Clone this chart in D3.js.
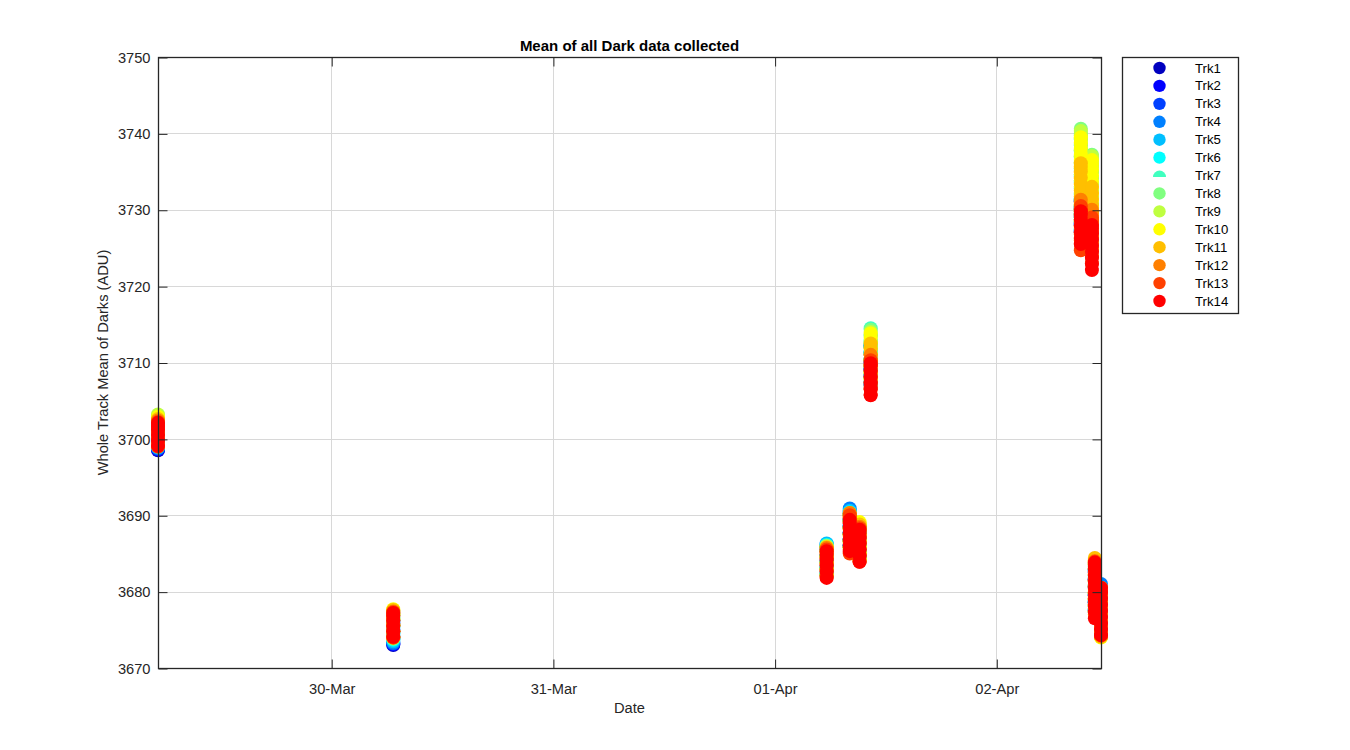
<!DOCTYPE html>
<html>
<head>
<meta charset="utf-8">
<script src="https://cdn.jsdelivr.net/npm/d3@7"></script>
<style>
  html, body { margin: 0; padding: 0; background: #fff; }
  svg { display: block; }
  text { font-family: Arial, "Liberation Sans", Helvetica, sans-serif; }
</style>
</head>
<body>
<svg id="chart" width="1350" height="750"></svg>
<script>
// ---------------- DATA ----------------
// Acquisition sessions (UTC); each track has one array of means per session
const sessionTimes = [
  "2016-03-29T05:15", "2016-03-30T06:43", "2016-04-01T05:38", "2016-04-01T08:08",
  "2016-04-01T09:12", "2016-04-01T10:24", "2016-04-02T09:09", "2016-04-02T10:21",
  "2016-04-02T10:40", "2016-04-02T11:20"
];
const trackNames = ["Trk1","Trk2","Trk3","Trk4","Trk5","Trk6","Trk7","Trk8","Trk9","Trk10","Trk11","Trk12","Trk13","Trk14"];
const trackColors = ["#0000bf","#0000ff","#0040ff","#0080ff","#00bfff","#00ffff","#40ffbf",
                     "#80ff80","#bfff40","#ffff00","#ffbf00","#ff8000","#ff4000","#ff0000"];
const yTicks = [3670, 3680, 3690, 3700, 3710, 3720, 3730, 3740, 3750];
const xTickDates = ["2016-03-30", "2016-03-31", "2016-04-01", "2016-04-02"];

const trk1 = [
  [3698.5, 3699.2, 3699.9, 3700.6],
  [3673.0, 3673.8, 3674.6, 3675.6],
  [3682.2, 3683.0, 3683.8, 3684.6, 3685.3, 3685.8],
  [3686.0, 3686.8, 3687.6, 3688.4, 3689.2, 3690.0],
  [3684.5, 3685.3, 3686.1, 3686.9, 3687.7, 3688.2],
  [3707.0, 3708.0, 3709.0, 3710.0, 3711.0, 3712.0],
  [3727.0, 3728.0, 3729.0, 3730.0, 3731.0],
  [3726.0, 3727.0, 3728.0, 3729.0, 3730.0],
  [3677.5, 3678.5, 3679.5, 3680.5, 3681.5, 3682.5],
  [3674.2, 3675.2, 3676.2, 3677.2, 3678.2, 3679.2, 3680.0]
];
const trk2 = [
  [3698.6, 3699.4, 3700.2, 3700.9],
  [3673.1, 3673.9, 3674.8, 3675.8],
  [3682.2, 3683.0, 3683.8, 3684.6, 3685.3, 3685.9],
  [3686.0, 3686.8, 3687.6, 3688.4, 3689.3, 3690.2],
  [3684.5, 3685.3, 3686.1, 3686.9, 3687.7, 3688.3],
  [3707.1, 3708.1, 3709.1, 3710.1, 3711.1, 3712.1],
  [3727.1, 3728.1, 3729.1, 3730.1, 3731.1],
  [3726.1, 3727.1, 3728.1, 3729.1, 3730.1],
  [3677.5, 3678.5, 3679.5, 3680.5, 3681.6, 3682.6],
  [3674.2, 3675.2, 3676.2, 3677.2, 3678.2, 3679.2, 3680.1]
];
const trk3 = [
  [3698.7, 3699.5, 3700.3, 3701.1],
  [3673.2, 3674.0, 3675.0, 3676.0],
  [3682.3, 3683.1, 3683.9, 3684.7, 3685.4, 3686.0],
  [3686.1, 3686.9, 3687.7, 3688.6, 3689.5, 3690.5],
  [3684.5, 3685.3, 3686.1, 3686.9, 3687.7, 3688.3],
  [3707.2, 3708.2, 3709.2, 3710.2, 3711.2, 3712.2],
  [3727.2, 3728.2, 3729.2, 3730.2, 3731.2],
  [3726.2, 3727.2, 3728.2, 3729.2, 3730.2],
  [3677.6, 3678.6, 3679.6, 3680.6, 3681.6, 3682.7],
  [3674.2, 3675.2, 3676.2, 3677.2, 3678.2, 3679.2, 3680.2]
];
const trk4 = [
  [3698.8, 3699.6, 3700.4, 3701.3],
  [3673.3, 3674.1, 3675.1, 3676.2],
  [3682.3, 3683.1, 3683.9, 3684.7, 3685.5, 3686.2],
  [3686.1, 3686.9, 3687.8, 3688.7, 3689.5, 3690.2, 3690.9],
  [3684.6, 3685.4, 3686.2, 3687.0, 3687.8, 3688.3],
  [3707.3, 3708.3, 3709.3, 3710.3, 3711.3, 3712.3],
  [3727.3, 3728.3, 3729.3, 3730.3, 3731.3],
  [3726.3, 3727.3, 3728.3, 3729.3, 3730.3],
  [3677.6, 3678.6, 3679.6, 3680.7, 3681.7, 3682.8],
  [3674.2, 3675.2, 3676.2, 3677.2, 3678.2, 3679.2, 3680.2, 3681.0]
];
const trk5 = [
  [3698.9, 3699.8, 3700.7, 3701.6],
  [3673.5, 3674.3, 3675.3, 3676.4],
  [3682.4, 3683.2, 3684.0, 3684.8, 3685.6, 3686.3],
  [3686.0, 3686.8, 3687.7, 3688.6, 3689.5, 3690.6],
  [3684.6, 3685.4, 3686.2, 3687.0, 3687.8, 3688.4],
  [3707.4, 3708.4, 3709.4, 3710.4, 3711.4, 3712.4],
  [3727.4, 3728.4, 3729.4, 3730.4, 3731.4],
  [3726.4, 3727.4, 3728.4, 3729.4, 3730.4],
  [3677.7, 3678.7, 3679.7, 3680.7, 3681.8, 3682.9],
  [3674.3, 3675.3, 3676.3, 3677.3, 3678.3, 3679.3, 3680.1]
];
const trk6 = [
  [3699.0, 3699.8, 3700.6, 3701.3, 3701.9],
  [3673.7, 3674.5, 3675.5, 3676.6],
  [3682.4, 3683.2, 3684.0, 3684.8, 3685.5, 3686.1],
  [3685.9, 3686.7, 3687.6, 3688.5, 3689.4, 3690.4],
  [3684.6, 3685.4, 3686.2, 3687.0, 3687.8, 3688.4],
  [3707.5, 3708.5, 3709.5, 3710.5, 3711.5, 3712.5],
  [3727.5, 3728.5, 3729.5, 3730.5, 3731.5],
  [3726.5, 3727.5, 3728.5, 3729.5, 3730.5],
  [3677.7, 3678.7, 3679.7, 3680.8, 3681.9, 3683.0],
  [3674.3, 3675.3, 3676.3, 3677.3, 3678.3, 3679.3, 3680.0]
];
const trk7 = [
  [3699.1, 3699.9, 3700.7, 3701.5, 3702.0, 3702.4],
  [3673.8, 3674.6, 3675.4, 3676.2, 3676.9],
  [3682.3, 3683.1, 3683.9, 3684.7, 3685.4, 3686.0],
  [3685.8, 3686.6, 3687.5, 3688.4, 3689.3, 3690.1],
  [3684.5, 3685.3, 3686.1, 3686.9, 3687.7, 3688.5],
  [3708.0, 3708.8, 3709.6, 3710.4, 3711.2, 3712.0, 3712.8, 3713.6, 3714.5],
  [3728.0, 3728.8, 3729.6, 3730.4, 3731.2, 3732.0, 3732.8, 3733.6, 3734.4, 3735.2, 3736.0, 3736.8, 3737.6, 3738.4, 3739.2, 3739.8],
  [3727.0, 3727.8, 3728.6, 3729.4, 3730.2, 3731.0, 3731.8, 3732.6, 3733.4, 3734.2, 3735.0, 3735.8, 3736.5],
  [3677.3, 3678.1, 3678.9, 3679.7, 3680.5, 3681.3, 3682.1, 3682.8, 3683.3],
  [3674.3, 3675.1, 3675.9, 3676.7, 3677.5, 3678.3, 3679.1, 3679.9]
];
const trk8 = [
  [3699.2, 3700.0, 3700.8, 3701.6, 3702.3, 3702.9],
  [3673.9, 3674.7, 3675.5, 3676.3, 3676.9, 3677.3],
  [3682.3, 3683.1, 3683.9, 3684.7, 3685.4, 3686.0],
  [3685.8, 3686.6, 3687.5, 3688.4, 3689.3, 3690.1],
  [3684.4, 3685.2, 3686.0, 3686.8, 3687.6, 3688.5],
  [3708.0, 3708.8, 3709.6, 3710.4, 3711.2, 3712.0, 3712.8, 3713.6, 3714.3],
  [3729.0, 3729.8, 3730.6, 3731.4, 3732.2, 3733.0, 3733.8, 3734.6, 3735.4, 3736.2, 3737.0, 3737.8, 3738.6, 3739.4, 3740.0, 3740.6],
  [3727.0, 3727.8, 3728.6, 3729.4, 3730.2, 3731.0, 3731.8, 3732.6, 3733.4, 3734.2, 3735.0, 3735.8, 3736.6, 3737.2],
  [3677.4, 3678.2, 3679.0, 3679.8, 3680.6, 3681.4, 3682.2, 3683.0, 3683.6],
  [3674.3, 3675.1, 3675.9, 3676.7, 3677.5, 3678.3, 3679.1, 3679.9, 3680.0]
];
const trk9 = [
  [3699.3, 3700.1, 3700.9, 3701.7, 3702.5, 3703.2],
  [3674.0, 3674.8, 3675.6, 3676.4, 3677.0, 3677.5],
  [3682.2, 3683.0, 3683.8, 3684.6, 3685.3, 3685.9],
  [3685.8, 3686.6, 3687.5, 3688.4, 3689.3, 3690.1],
  [3684.3, 3685.1, 3685.9, 3686.7, 3687.5, 3688.2, 3688.9],
  [3708.0, 3708.8, 3709.6, 3710.4, 3711.2, 3712.0, 3712.7, 3713.4, 3714.0],
  [3729.0, 3729.8, 3730.6, 3731.4, 3732.2, 3733.0, 3733.8, 3734.6, 3735.4, 3736.2, 3737.0, 3737.8, 3738.6, 3739.3, 3739.8, 3740.3],
  [3727.0, 3727.8, 3728.6, 3729.4, 3730.2, 3731.0, 3731.8, 3732.6, 3733.4, 3734.2, 3735.0, 3735.8, 3736.5, 3737.0],
  [3677.4, 3678.2, 3679.0, 3679.8, 3680.6, 3681.4, 3682.2, 3683.0, 3683.8],
  [3674.2, 3675.0, 3675.8, 3676.6, 3677.4, 3678.2, 3679.0, 3679.8, 3680.0]
];
const trk10 = [
  [3699.2, 3700.0, 3700.8, 3701.6, 3702.3, 3702.9],
  [3674.0, 3674.8, 3675.6, 3676.4, 3677.1, 3677.7],
  [3682.2, 3683.0, 3683.8, 3684.6, 3685.3, 3685.8],
  [3685.7, 3686.5, 3687.4, 3688.3, 3689.2, 3690.0],
  [3684.2, 3685.0, 3685.8, 3686.6, 3687.4, 3688.2, 3688.7, 3689.1],
  [3707.8, 3708.6, 3709.4, 3710.2, 3711.0, 3711.8, 3712.5, 3713.2, 3713.8],
  [3728.5, 3729.3, 3730.1, 3730.9, 3731.7, 3732.5, 3733.3, 3734.1, 3734.9, 3735.7, 3736.5, 3737.3, 3738.1, 3738.8, 3739.5],
  [3726.5, 3727.3, 3728.1, 3728.9, 3729.7, 3730.5, 3731.3, 3732.1, 3732.9, 3733.7, 3734.5, 3735.3, 3736.0, 3736.5],
  [3677.4, 3678.2, 3679.0, 3679.8, 3680.6, 3681.4, 3682.2, 3683.0, 3683.6, 3684.0],
  [3674.0, 3674.8, 3675.6, 3676.4, 3677.2, 3678.0, 3678.8, 3679.6, 3680.2, 3680.5]
];
const trk11 = [
  [3699.1, 3699.9, 3700.7, 3701.5, 3702.1, 3702.6],
  [3674.0, 3674.8, 3675.6, 3676.4, 3677.0, 3677.6],
  [3682.1, 3682.9, 3683.7, 3684.5, 3685.2, 3685.8],
  [3685.5, 3686.3, 3687.2, 3688.1, 3689.0, 3689.7, 3690.3],
  [3684.1, 3684.9, 3685.7, 3686.5, 3687.3, 3688.1, 3688.8],
  [3707.0, 3707.8, 3708.6, 3709.4, 3710.2, 3711.0, 3711.8, 3712.5],
  [3727.0, 3727.8, 3728.6, 3729.4, 3730.2, 3731.0, 3731.8, 3732.6, 3733.4, 3734.2, 3735.0, 3735.6, 3736.1],
  [3725.0, 3725.8, 3726.6, 3727.4, 3728.2, 3729.0, 3729.8, 3730.6, 3731.4, 3732.2, 3733.0],
  [3677.0, 3677.8, 3678.6, 3679.4, 3680.2, 3681.0, 3681.8, 3682.6, 3683.4, 3684.0, 3684.4],
  [3674.1, 3674.9, 3675.7, 3676.5, 3677.3, 3678.1, 3678.9, 3679.7, 3680.2, 3680.5]
];
const trk12 = [
  [3699.0, 3699.8, 3700.6, 3701.4, 3702.0, 3702.4],
  [3674.0, 3674.8, 3675.6, 3676.3, 3676.9, 3677.4],
  [3682.0, 3682.8, 3683.6, 3684.4, 3685.1, 3685.7],
  [3685.1, 3685.9, 3686.7, 3687.5, 3688.3, 3689.1, 3689.8, 3690.3],
  [3684.0, 3684.8, 3685.6, 3686.4, 3687.2, 3688.0, 3688.5],
  [3706.5, 3707.3, 3708.1, 3708.9, 3709.7, 3710.4, 3711.0],
  [3726.0, 3726.8, 3727.6, 3728.4, 3729.2, 3730.0, 3730.7, 3731.3],
  [3724.0, 3724.8, 3725.6, 3726.4, 3727.2, 3728.0, 3728.8, 3729.5, 3730.0],
  [3677.5, 3678.3, 3679.1, 3679.9, 3680.7, 3681.5, 3682.3, 3683.1, 3683.7, 3684.0],
  [3674.2, 3675.0, 3675.8, 3676.6, 3677.4, 3678.2, 3679.0, 3679.8, 3680.4]
];
const trk13 = [
  [3699.0, 3699.8, 3700.6, 3701.3, 3701.8, 3702.2],
  [3674.0, 3674.8, 3675.5, 3676.2, 3676.8, 3677.3],
  [3681.9, 3682.7, 3683.5, 3684.3, 3685.0, 3685.5],
  [3685.0, 3685.8, 3686.6, 3687.4, 3688.2, 3689.0, 3689.6, 3690.0],
  [3683.9, 3684.7, 3685.5, 3686.3, 3687.1, 3687.8, 3688.3],
  [3705.8, 3706.6, 3707.4, 3708.2, 3709.0, 3709.7, 3710.3],
  [3724.7, 3725.5, 3726.3, 3727.1, 3727.9, 3728.7, 3729.5, 3730.1, 3730.5],
  [3723.0, 3723.8, 3724.6, 3725.4, 3726.2, 3727.0, 3727.8, 3728.5, 3729.0],
  [3678.3, 3679.1, 3679.9, 3680.7, 3681.5, 3682.3, 3683.1, 3683.6, 3683.9],
  [3674.3, 3675.1, 3675.9, 3676.7, 3677.5, 3678.3, 3679.1, 3679.9, 3680.4]
];
const trk14 = [
  [3699.1, 3699.8, 3700.5, 3701.2, 3701.7, 3702.1],
  [3674.1, 3674.8, 3675.5, 3676.2, 3676.8, 3677.2],
  [3681.8, 3682.6, 3683.4, 3684.1, 3684.8, 3685.3],
  [3685.3, 3686.1, 3686.9, 3687.7, 3688.5, 3689.0, 3689.4],
  [3683.9, 3684.7, 3685.5, 3686.3, 3687.0, 3687.6, 3688.1],
  [3705.7, 3706.5, 3707.3, 3708.1, 3708.9, 3709.5, 3709.9],
  [3725.5, 3726.3, 3727.1, 3727.9, 3728.7, 3729.3, 3729.8],
  [3722.1, 3722.9, 3723.7, 3724.5, 3725.3, 3726.1, 3726.9, 3727.5, 3728.0],
  [3676.5, 3677.3, 3678.1, 3678.9, 3679.7, 3680.5, 3681.3, 3682.1, 3682.9, 3683.4, 3683.8],
  [3674.3, 3675.1, 3675.9, 3676.7, 3677.5, 3678.3, 3679.1, 3679.9, 3680.5]
];
const tracks = [trk1, trk2, trk3, trk4, trk5, trk6, trk7, trk8, trk9, trk10, trk11, trk12, trk13, trk14];

// ---------------- CHART ----------------
const parseT = d3.utcParse("%Y-%m-%dT%H:%M");
const parseD = d3.utcParse("%Y-%m-%d");
const times = sessionTimes.map(parseT);

const W = 1350, H = 750;
const plot = { left: 158, right: 1101, top: 57, bottom: 668 };
const axisColor = "#262626";
const gridColor = "#d8d8d8";
const FONT = "Arial, 'Liberation Sans', sans-serif";

const svg = d3.select("#chart");
svg.append("rect").attr("width", W).attr("height", H).attr("fill", "#fff");

const x = d3.scaleUtc().domain(d3.extent(times)).range([plot.left, plot.right]);
const y = d3.scaleLinear().domain([3670, 3750]).range([plot.bottom, plot.top]);
const xTicks = xTickDates.map(parseD);

// gridlines
const grid = svg.append("g");
grid.selectAll("line.gx").data(xTicks).join("line")
  .attr("x1", d => Math.round(x(d)) + 0.5).attr("x2", d => Math.round(x(d)) + 0.5)
  .attr("y1", plot.top).attr("y2", plot.bottom)
  .attr("stroke", gridColor).attr("stroke-width", 1);
grid.selectAll("line.gy").data(yTicks).join("line")
  .attr("y1", d => Math.round(y(d)) + 0.5).attr("y2", d => Math.round(y(d)) + 0.5)
  .attr("x1", plot.left).attr("x2", plot.right)
  .attr("stroke", gridColor).attr("stroke-width", 1);

// points (track 1 drawn first, track 14 last)
const pts = [];
tracks.forEach((trk, ti) => {
  trk.forEach((vals, si) => {
    vals.forEach(v => pts.push({ t: times[si], v, ti }));
  });
});
svg.append("g").selectAll("circle").data(pts).join("circle")
  .attr("cx", d => x(d.t)).attr("cy", d => y(d.v)).attr("r", 7)
  .attr("fill", d => trackColors[d.ti]);

// axes box
svg.append("rect")
  .attr("x", plot.left + 0.5).attr("y", plot.top + 0.5)
  .attr("width", plot.right - plot.left).attr("height", plot.bottom - plot.top)
  .attr("fill", "none").attr("stroke", axisColor).attr("stroke-width", 1.3);

const bottomAxis = d3.axisBottom(x).tickValues(xTicks).tickFormat(d3.utcFormat("%d-%b"))
  .tickSizeInner(-9).tickSizeOuter(0).tickPadding(15);
const gb = svg.append("g").attr("transform", `translate(0.5,${plot.bottom + 0.5})`).call(bottomAxis);
const topAxis = d3.axisTop(x).tickValues(xTicks).tickFormat("").tickSizeInner(-9).tickSizeOuter(0);
const gt = svg.append("g").attr("transform", `translate(0.5,${plot.top + 0.5})`).call(topAxis);
const leftAxis = d3.axisLeft(y).tickValues(yTicks).tickFormat(d3.format("d"))
  .tickSizeInner(-9).tickSizeOuter(0).tickPadding(8);
const gl = svg.append("g").attr("transform", `translate(${plot.left + 0.5},0.5)`).call(leftAxis);
const rightAxis = d3.axisRight(y).tickValues(yTicks).tickFormat("").tickSizeInner(-9).tickSizeOuter(0);
const gr = svg.append("g").attr("transform", `translate(${plot.right + 0.5},0.5)`).call(rightAxis);

[gb, gt, gl, gr].forEach(g => {
  g.select(".domain").remove();
  g.selectAll(".tick line").attr("stroke", axisColor).attr("stroke-width", 1);
  g.selectAll(".tick text").attr("fill", axisColor)
    .style("font-family", FONT).style("font-size", "14.67px");
});

// title & labels
svg.append("text").attr("x", (plot.left + plot.right) / 2).attr("y", 51)
  .attr("text-anchor", "middle").style("font-size", "15px").style("font-weight", "bold")
  .attr("fill", "#000").text("Mean of all Dark data collected");
svg.append("text").attr("x", (plot.left + plot.right) / 2).attr("y", 713)
  .attr("text-anchor", "middle").style("font-size", "14.67px").attr("fill", axisColor).text("Date");
svg.append("text")
  .attr("transform", `translate(108,${(plot.top + plot.bottom) / 2}) rotate(-90)`)
  .attr("text-anchor", "middle").style("font-size", "14.67px").attr("fill", axisColor)
  .text("Whole Track Mean of Darks (ADU)");

// legend
const leg = { x: 1122, y: 57, w: 116, h: 256 };
const lg = svg.append("g");
lg.append("rect").attr("x", leg.x + 0.5).attr("y", leg.y + 0.5).attr("width", leg.w).attr("height", leg.h)
  .attr("fill", "#fff").attr("stroke", axisColor).attr("stroke-width", 1.3);
const rowY = d3.scaleLinear().domain([0, trackNames.length - 1]).range([68, 301]);
trackNames.forEach((name, i) => {
  const cy = rowY(i);
  if (i === 6) {
    // marker rendered clipped (upper half only) in the original legend
    lg.append("path")
      .attr("d", `M${1159.5 - 6.5},${cy + 1.5} A6.5,6.5 0 0,1 ${1159.5 + 6.5},${cy + 1.5} Z`)
      .attr("fill", trackColors[i]);
  } else {
    lg.append("circle").attr("cx", 1159.5).attr("cy", cy).attr("r", 6.2).attr("fill", trackColors[i]);
  }
  lg.append("text").attr("x", 1195).attr("y", cy + 4.5)
    .style("font-size", "13.2px").attr("fill", "#000").text(name);
});
</script>
</body>
</html>
